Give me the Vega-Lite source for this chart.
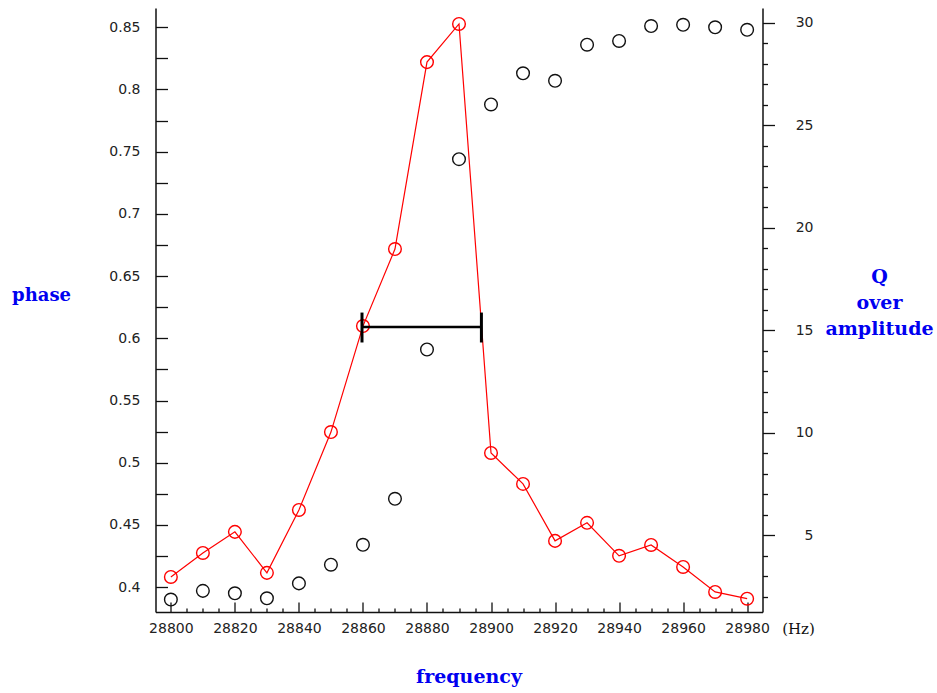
{
  "$schema": "https://vega.github.io/schema/vega-lite/v6.json",
  "width": 607,
  "height": 604,
  "autosize": {"type": "none"},
  "padding": {"left": 155.5, "top": 8, "right": 174.5, "bottom": 81},
  "background": "white",
  "config": {
    "view": {"stroke": null},
    "axis": {
      "grid": false,
      "labelFont": "DejaVu Sans",
      "labelFontSize": 14,
      "labelColor": "#222222",
      "tickColor": "#111111",
      "domainColor": "#111111",
      "domainWidth": 1.5,
      "tickWidth": 1.3,
      "labelOverlap": false,
      "labelFlush": false,
      "labelBound": false
    }
  },
  "title": {
    "text": "frequency",
    "orient": "bottom",
    "anchor": "middle",
    "dx": 10,
    "offset": 27,
    "font": "DejaVu Serif",
    "fontWeight": "bold",
    "fontSize": 19,
    "color": "#0000f0"
  },
  "datasets": {
    "main": [
      {"freq": 28800, "phase": 0.390, "q": 2.96},
      {"freq": 28810, "phase": 0.397, "q": 4.13},
      {"freq": 28820, "phase": 0.395, "q": 5.16},
      {"freq": 28830, "phase": 0.391, "q": 3.16},
      {"freq": 28840, "phase": 0.403, "q": 6.23},
      {"freq": 28850, "phase": 0.418, "q": 10.03},
      {"freq": 28860, "phase": 0.434, "q": 15.2},
      {"freq": 28870, "phase": 0.471, "q": 18.96},
      {"freq": 28880, "phase": 0.591, "q": 28.08},
      {"freq": 28890, "phase": 0.744, "q": 29.94},
      {"freq": 28900, "phase": 0.788, "q": 9.01},
      {"freq": 28910, "phase": 0.813, "q": 7.5},
      {"freq": 28920, "phase": 0.807, "q": 4.72},
      {"freq": 28930, "phase": 0.836, "q": 5.6},
      {"freq": 28940, "phase": 0.839, "q": 3.99},
      {"freq": 28950, "phase": 0.851, "q": 4.52},
      {"freq": 28960, "phase": 0.852, "q": 3.45},
      {"freq": 28970, "phase": 0.850, "q": 2.23},
      {"freq": 28980, "phase": 0.848, "q": 1.9}
    ],
    "bar": [
      {"freq": 28859.7, "freq2": 28897.0, "q": 15.16}
    ],
    "caps": [
      {"freq": 28859.7, "q": 14.4, "q2": 15.86},
      {"freq": 28897.0, "q": 14.4, "q2": 15.86}
    ]
  },
  "encoding": {
    "x": {
      "field": "freq",
      "type": "quantitative",
      "scale": {"domain": [28795.2, 28984.8], "nice": false, "zero": false},
      "axis": {
        "orient": "bottom",
        "values": [28800, 28805, 28810, 28815, 28820, 28825, 28830, 28835, 28840, 28845, 28850, 28855, 28860, 28865, 28870, 28875, 28880, 28885, 28890, 28895, 28900, 28905, 28910, 28915, 28920, 28925, 28930, 28935, 28940, 28945, 28950, 28955, 28960, 28965, 28970, 28975, 28980],
        "labelExpr": "datum.value % 20 === 0 ? '' + datum.value : ''",
        "tickSize": {"condition": {"test": "datum.value % 20 === 0", "value": -10}, "value": -4},
        "labelPadding": 19,
        "labelBaseline": "top",
        "title": "(Hz)",
        "titleX": 642.5,
        "titleY": 16,
        "titleAlign": "center",
        "titleBaseline": "middle",
        "titleFont": "DejaVu Serif",
        "titleFontWeight": "normal",
        "titleFontSize": 15,
        "titleColor": "#111111"
      }
    }
  },
  "layer": [
    {
      "data": {"name": "main"},
      "mark": {"type": "point", "shape": "circle", "filled": false, "size": 160, "stroke": "#111111", "strokeWidth": 1.4, "opacity": 1},
      "encoding": {
        "y": {
          "field": "phase",
          "type": "quantitative",
          "scale": {"domain": [0.38, 0.8655], "nice": false, "zero": false},
          "axis": {
            "orient": "left",
            "values": [0.4, 0.425, 0.45, 0.475, 0.5, 0.525, 0.55, 0.575, 0.6, 0.625, 0.65, 0.675, 0.7, 0.725, 0.75, 0.775, 0.8, 0.825, 0.85],
            "labelExpr": "abs(datum.value * 20 - round(datum.value * 20)) < 0.001 ? '' + round(datum.value * 100) / 100 : ''",
            "tickSize": -12,
            "labelPadding": 27.5,
            "title": "phase",
            "titleAngle": 0,
            "titleX": -114.5,
            "titleY": 287,
            "titleAlign": "center",
            "titleBaseline": "middle",
            "titleFont": "DejaVu Serif",
            "titleFontWeight": "bold",
            "titleFontSize": 18,
            "titleColor": "#0000f0"
          }
        }
      }
    },
    {
      "encoding": {
        "y": {
          "field": "q",
          "type": "quantitative",
          "scale": {"domain": [1.25, 30.72], "nice": false, "zero": false},
          "axis": {
            "orient": "right",
            "values": [2, 3, 4, 5, 6, 7, 8, 9, 10, 11, 12, 13, 14, 15, 16, 17, 18, 19, 20, 21, 22, 23, 24, 25, 26, 27, 28, 29, 30],
            "labelExpr": "datum.value % 5 === 0 ? '' + datum.value : ''",
            "tickSize": {"condition": {"test": "datum.value % 5 === 0", "value": 12}, "value": 5},
            "labelPadding": 38.5,
            "labelAlign": "right",
            "title": ["Q", "over", "amplitude"],
            "titleAngle": 0,
            "titleX": 116.5,
            "titleY": 268,
            "titleAlign": "center",
            "titleBaseline": "middle",
            "titleLineHeight": 26,
            "titleFont": "DejaVu Serif",
            "titleFontWeight": "bold",
            "titleFontSize": 19,
            "titleColor": "#0000f0"
          }
        }
      },
      "layer": [
        {
          "data": {"name": "main"},
          "mark": {"type": "line", "color": "#ff0000", "strokeWidth": 1.2}
        },
        {
          "data": {"name": "main"},
          "mark": {"type": "point", "shape": "circle", "filled": false, "size": 160, "stroke": "#ff0000", "strokeWidth": 1.4, "opacity": 1}
        },
        {
          "data": {"name": "bar"},
          "mark": {"type": "rule", "color": "#000000", "strokeWidth": 2.5},
          "encoding": {
            "x2": {"field": "freq2"}
          }
        },
        {
          "data": {"name": "caps"},
          "mark": {"type": "rule", "color": "#000000", "strokeWidth": 3},
          "encoding": {
            "y2": {"field": "q2"}
          }
        }
      ]
    }
  ],
  "resolve": {"scale": {"y": "independent"}}
}
